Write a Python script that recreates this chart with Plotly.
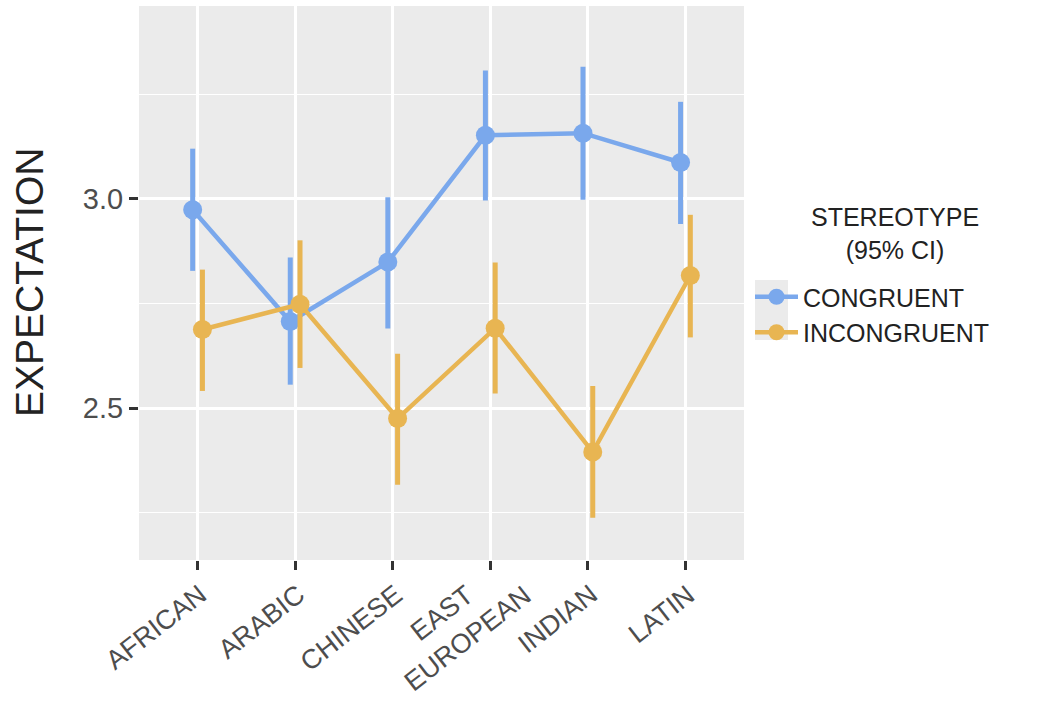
import plotly.graph_objects as go

# Mean expectation ratings by name origin, split by stereotype congruence (95% CI)
categories = ["AFRICAN", "ARABIC", "CHINESE", "EAST<br>EUROPEAN", "INDIAN", "LATIN"]

congruent_mean = [2.974, 2.707, 2.849, 3.152, 3.157, 3.087]
congruent_lo = [2.828, 2.556, 2.690, 2.996, 2.998, 2.940]
congruent_hi = [3.120, 2.860, 3.004, 3.307, 3.316, 3.232]

incongruent_mean = [2.688, 2.748, 2.475, 2.691, 2.395, 2.817]
incongruent_lo = [2.541, 2.596, 2.317, 2.535, 2.238, 2.669]
incongruent_hi = [2.831, 2.901, 2.630, 2.848, 2.553, 2.962]

BLUE = "#7AA8EC"
ORANGE = "#E8B552"
FONT = "Liberation Sans, Arial, sans-serif"
DODGE = 0.05
LABEL_ANGLE = -38
LABEL_SIZE = 27

# plot area in pixels (for placing paper-referenced extras)
L, R, T, B = 139, 744, 6, 560
W, H = R - L, B - T


def px_x(x):
    return (x - L) / W


def px_y(y):
    return (B - y) / H


pos = list(range(len(categories)))


def ci_trace(name, mean, lo, hi, color, shift):
    return go.Scatter(
        x=[p + shift for p in pos],
        y=mean,
        name=name,
        mode="lines+markers",
        line=dict(color=color, width=4.5),
        marker=dict(color=color, size=19),
        error_y=dict(
            type="data",
            symmetric=False,
            array=[h - m for h, m in zip(hi, mean)],
            arrayminus=[m - l for m, l in zip(mean, lo)],
            color=color,
            thickness=5,
            width=0,
        ),
    )


fig = go.Figure()
fig.add_trace(ci_trace("CONGRUENT", congruent_mean, congruent_lo, congruent_hi, BLUE, -DODGE))
fig.add_trace(ci_trace("INCONGRUENT", incongruent_mean, incongruent_lo, incongruent_hi, ORANGE, DODGE))

# rotated category labels, right-justified under each tick.
# Two-line labels are set line by line so the lines sit centred on each other.
SINGLE_SHIFT = (18, 0)
TWO_LINE_SHIFTS = [(-8, -1), (50, -1)]
for p, label in zip(pos, categories):
    lines = label.split("<br>")
    shifts = [SINGLE_SHIFT] if len(lines) == 1 else TWO_LINE_SHIFTS
    for line, (dx, dy) in zip(lines, shifts):
        fig.add_annotation(
            text=line, xref="x", yref="paper",
            x=p, y=px_y(576), xanchor="right", yanchor="top",
            xshift=dx, yshift=dy,
            textangle=LABEL_ANGLE, showarrow=False,
            font=dict(size=LABEL_SIZE, color="#4D4D4D", family=FONT),
        )

# grey key background behind the legend symbols
fig.add_shape(
    type="rect", xref="paper", yref="paper",
    x0=px_x(755), x1=px_x(788), y0=px_y(340), y1=px_y(280),
    fillcolor="#EBEBEB", line=dict(width=0), layer="below",
)

# legend heading, centred over the legend
fig.add_annotation(
    text="STEREOTYPE<br>(95% CI)", xref="paper", yref="paper",
    x=px_x(895), y=px_y(234), xanchor="center", yanchor="middle",
    align="center", showarrow=False,
    font=dict(size=25, color="#222222", family=FONT),
)

# y-axis title
fig.add_annotation(
    text="EXPECTATION", xref="paper", yref="paper",
    x=px_x(29), y=px_y(283), xanchor="center", yanchor="middle",
    textangle=-90, showarrow=False,
    font=dict(size=39, color="#222222", family=FONT),
)

fig.update_layout(
    width=1044,
    height=702,
    margin=dict(l=L, r=1044 - R, t=T, b=702 - B, autoexpand=False),
    paper_bgcolor="white",
    plot_bgcolor="#EBEBEB",
    font=dict(family=FONT, color="#000000"),
    showlegend=True,
    legend=dict(
        font=dict(size=25, color="#222222"),
        x=px_x(750), xanchor="left",
        y=px_y(274), yanchor="top",
        bgcolor="rgba(0,0,0,0)",
        itemwidth=43,
        tracegroupgap=0,
    ),
    xaxis=dict(
        range=[-0.6, len(categories) - 0.4],
        tickmode="array",
        tickvals=pos,
        showticklabels=False,
        ticks="outside",
        ticklen=9,
        tickwidth=2.5,
        tickcolor="#333333",
        showgrid=True,
        gridcolor="white",
        gridwidth=2.5,
        zeroline=False,
        showline=False,
        automargin=False,
        fixedrange=True,
    ),
    yaxis=dict(
        range=[2.137, 3.461],
        tickmode="array",
        tickvals=[2.5, 3.0],
        ticktext=["2.5", "3.0"],
        tickfont=dict(size=29, color="#4D4D4D"),
        ticks="outside",
        ticklen=9,
        tickwidth=2.5,
        tickcolor="#333333",
        showgrid=True,
        gridcolor="white",
        gridwidth=2.5,
        minor=dict(tickvals=[2.25, 2.75, 3.25], showgrid=True,
                   gridcolor="white", gridwidth=1.2, ticklen=0),
        zeroline=False,
        showline=False,
        automargin=False,
        fixedrange=True,
    ),
)

fig.write_html("out.html")
